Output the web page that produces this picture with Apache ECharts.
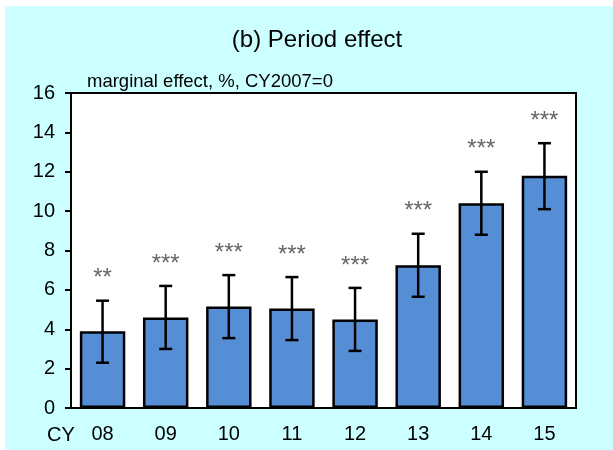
<!DOCTYPE html>
<html><head><meta charset="utf-8">
<script src="https://cdn.jsdelivr.net/npm/echarts@6/dist/echarts.min.js"></script>
<style>
html,body{margin:0;padding:0;background:#fff;}
#wrap{position:absolute;left:0;top:0;width:613px;height:450px;background:#fff;}
#c{position:absolute;left:5px;top:6px;width:608px;height:444px;}
</style></head>
<body><div id="wrap"><div id="c"></div></div>
<script>
var categories = ['08','09','10','11','12','13','14','15'];
var values = [3.9, 4.6, 5.15, 5.05, 4.5, 7.25, 10.4, 11.8];
var lower  = [2.3, 3.0, 3.55, 3.45, 2.9, 5.65, 8.8, 10.1];
var upper  = [5.45, 6.2, 6.75, 6.65, 6.1, 8.85, 12.0, 13.45];
var stars  = ['**','***','***','***','***','***','***','***'];
var yTicks = [0, 16, 2];

var errData = categories.map(function(c, i){ return [i, lower[i], upper[i]]; });

var chart = echarts.init(document.getElementById('c'), null, {renderer:'canvas'});
var FONT = 'Liberation Sans, Arial, sans-serif';
chart.setOption({
  backgroundColor: '#CCFFFF',
  animation: false,
  graphic: [
    {type:'text', x: 312, y: 34, style:{text:'(b) Period effect', font:'24px '+FONT, fill:'#000', align:'center', verticalAlign:'middle'}},
    {type:'text', left: 82, top: 66, style:{text:'marginal effect, %, CY2007=0', font:'18.5px '+FONT, fill:'#000'}},
    {type:'text', x: 56, y: 429, style:{text:'CY', font:'20px '+FONT, fill:'#000', align:'center', verticalAlign:'middle'}}
  ],
  grid: {left: 66, right: 37, top: 87, bottom: 42, show: true, backgroundColor:'#fff', borderColor:'#000', borderWidth: 2},
  xAxis: {
    type: 'category', data: categories,
    axisLine: {lineStyle:{color:'#000', width: 2}},
    axisTick: {inside: true, length: 5, interval: 0, lineStyle:{color:'#000', width: 2}},
    axisLabel: {fontFamily: FONT, fontSize: 20, color:'#000', margin: 16, interval: 0},
    splitLine: {show:false}
  },
  yAxis: {
    type: 'value', min: yTicks[0], max: yTicks[1], interval: yTicks[2],
    axisLine: {show:true, lineStyle:{color:'#000', width: 2}},
    axisTick: {show:true, length: 6, lineStyle:{color:'#000', width: 2}},
    axisLabel: {fontFamily: FONT, fontSize: 20, color:'#000', margin: 16},
    splitLine: {show:false}
  },
  series: [
    {
      type: 'bar', data: values, barWidth: '72%',
      itemStyle: {color:'#558ED5', borderColor:'#000', borderWidth: 2.5},
      z: 2
    },
    {
      type: 'custom', data: errData, z: 3,
      renderItem: function(params, api){
        var x = api.value(0);
        var lo = api.coord([x, api.value(1)]);
        var hi = api.coord([x, api.value(2)]);
        var cap = 6.5;
        var st = {stroke:'#000', lineWidth: 2.5};
        return {type:'group', children:[
          {type:'line', shape:{x1:lo[0], y1:lo[1], x2:hi[0], y2:hi[1]}, style:st},
          {type:'line', shape:{x1:lo[0]-cap, y1:lo[1], x2:lo[0]+cap, y2:lo[1]}, style:st},
          {type:'line', shape:{x1:hi[0]-cap, y1:hi[1], x2:hi[0]+cap, y2:hi[1]}, style:st},
          {type:'text', x: hi[0], y: hi[1]-22, style:{text: stars[params.dataIndex], font:'24px '+FONT, fill:'#666', align:'center', verticalAlign:'middle'}}
        ]};
      }
    }
  ]
});
</script></body></html>
